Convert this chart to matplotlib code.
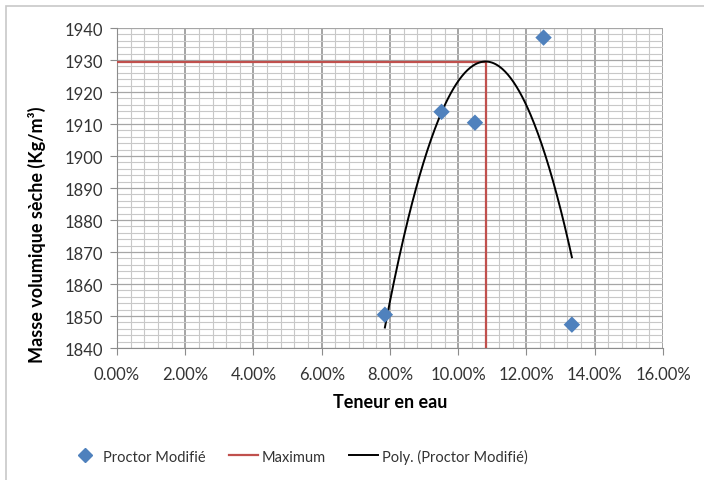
import numpy as np
import matplotlib.pyplot as plt
from matplotlib.ticker import MultipleLocator, FuncFormatter
from matplotlib.lines import Line2D
from matplotlib.patches import Rectangle

plt.rcParams['font.family'] = ['Lato', 'DejaVu Sans']

# Proctor test measurements
teneur_eau = [0.0785, 0.0951, 0.1049, 0.1250, 0.1333]     # water content
masse_vol = [1850.4, 1913.8, 1910.4, 1937.0, 1847.3]      # dry density, kg/m3

x_ticks = [0.00, 0.02, 0.04, 0.06, 0.08, 0.10, 0.12, 0.14, 0.16]
y_ticks = [1840, 1850, 1860, 1870, 1880, 1890, 1900, 1910, 1920, 1930, 1940]

# second-order polynomial trend line
coef = np.polyfit(teneur_eau, masse_vol, 2)
xs = np.linspace(min(teneur_eau), max(teneur_eau), 200)
ys = np.polyval(coef, xs)
x_max = -coef[1] / (2 * coef[0])
y_max = np.polyval(coef, x_max)

fig = plt.figure(figsize=(7.04, 4.81), dpi=100)
ax = fig.add_axes([117 / 704, 1 - 349 / 481, 546 / 704, 320 / 481])

# outer chart frame
fig.patches.append(Rectangle((6 / 704, -0.05), 1.1, 1 - 7 / 481 + 0.05,
                             transform=fig.transFigure, fill=False,
                             edgecolor='#c8c8c8', linewidth=1.2))

ax.set_xlim(0, 0.16)
ax.set_ylim(1840, 1940)
ax.set_xticks(x_ticks)
ax.set_yticks(y_ticks)
ax.xaxis.set_minor_locator(MultipleLocator(0.004))
ax.yaxis.set_minor_locator(MultipleLocator(2))
ax.xaxis.set_major_formatter(FuncFormatter(lambda v, p: f"{v * 100:.2f}%"))

ax.grid(which='major', axis='x', color='#8c8c8c', linewidth=1.1)
ax.grid(which='major', axis='y', color='#a6a6a6', linewidth=0.9)
ax.grid(which='minor', color='#c8c8c8', linewidth=0.8)
ax.set_axisbelow(True)

for side in ['top', 'right']:
    ax.spines[side].set_visible(False)
for side in ['left', 'bottom']:
    ax.spines[side].set_color('#8c8c8c')

ax.tick_params(which='major', direction='out', length=5, color='#8c8c8c',
               labelsize=12, labelcolor='#333333')
ax.tick_params(axis='x', pad=8)
ax.tick_params(axis='y', pad=5)
ax.tick_params(which='minor', length=0)

# maximum markers
ax.plot([0, x_max], [y_max, y_max], color='#c0504d', linewidth=1.6, zorder=3)
ax.plot([x_max, x_max], [1840, y_max], color='#c0504d', linewidth=1.6, zorder=3)

ax.plot(xs, ys, color='black', linewidth=1.4, zorder=4)
ax.scatter(teneur_eau, masse_vol, marker='D', s=70, color='#4f81bd',
           edgecolor='none', zorder=5)

ax.set_xlabel('Teneur en eau', fontsize=13, fontweight='bold', va='center')
ax.xaxis.set_label_coords(0.5, (349 - 403) / 320)
ax.set_ylabel('Masse volumique sèche (Kg/m³)', fontsize=13, fontweight='bold',
              va='center')
ax.yaxis.set_label_coords((36.5 - 117) / 546, (349 - 235) / 320)

handles = [
    Line2D([], [], marker='D', linestyle='none', color='#4f81bd', markersize=7),
    Line2D([], [], color='#c0504d', linewidth=1.6),
    Line2D([], [], color='black', linewidth=1.4),
]
labels = ['Proctor Modifié', 'Maximum', 'Poly. (Proctor Modifié)']
fig.legend(handles, labels, loc='center left',
           bbox_to_anchor=(70 / 704, 1 - 457 / 481),
           ncol=3, frameon=False, fontsize=10.5, handlelength=2.0,
           columnspacing=1.6, handletextpad=0.25, borderpad=0,
           borderaxespad=0, labelcolor='#333333')

fig.savefig('out.png', dpi=100)
